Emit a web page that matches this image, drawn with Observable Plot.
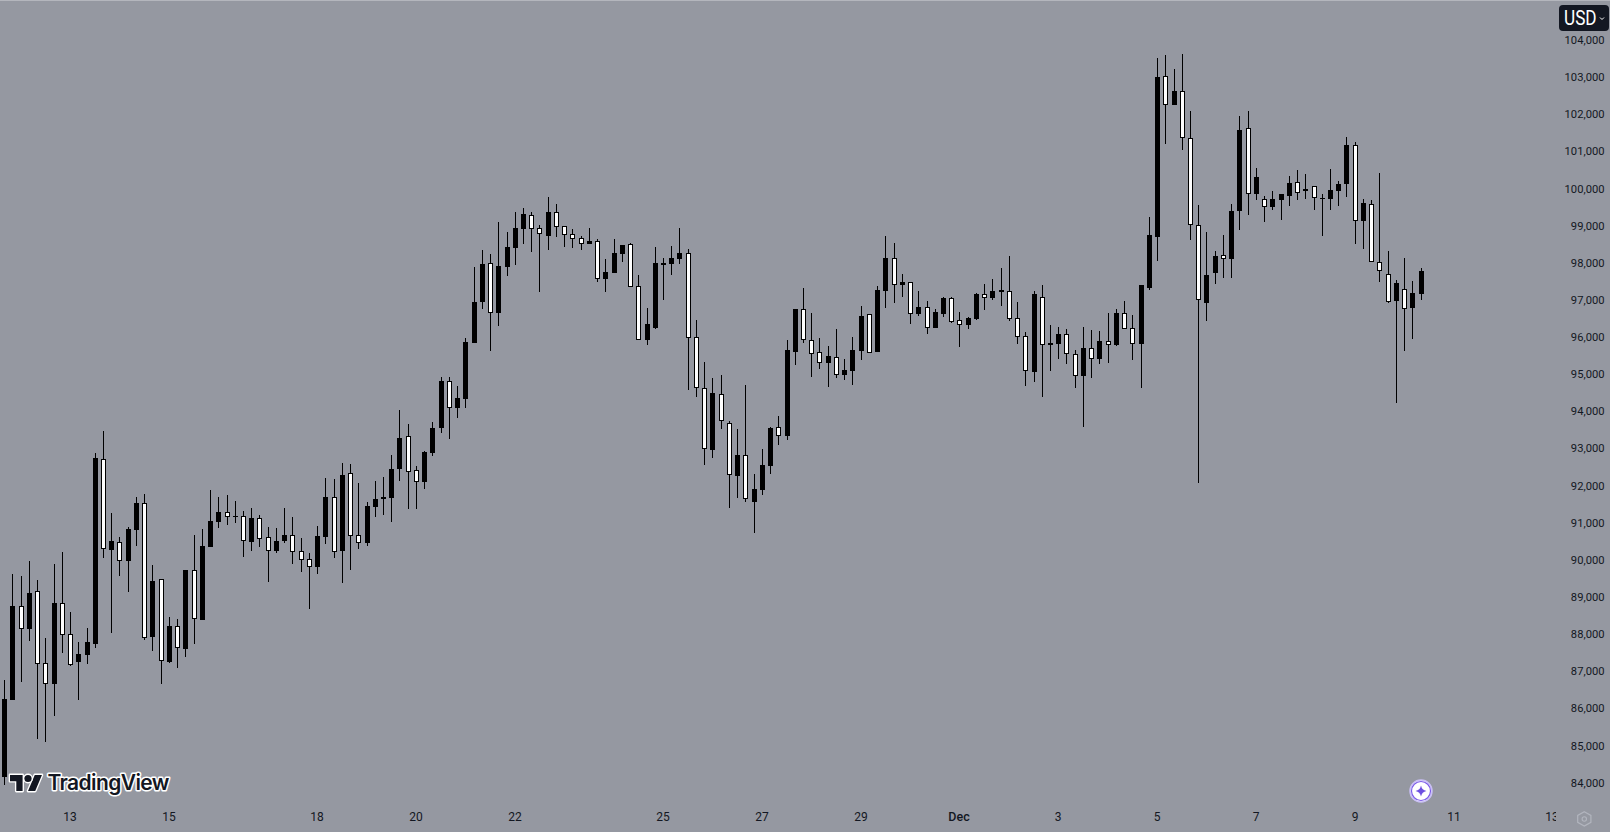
<!DOCTYPE html>
<html>
<head>
<meta charset="utf-8">
<script src="https://cdn.jsdelivr.net/npm/d3@7"></script>
<script src="https://cdn.jsdelivr.net/npm/@observablehq/plot@0.6"></script>
<style>
html,body{margin:0;padding:0;background:#9598a1;overflow:hidden}
#wrap{position:relative;width:1610px;height:832px;background:#9598a1;overflow:hidden}
#wrap svg.plot{position:absolute;left:0;top:0;background:transparent}
.ov{position:absolute}
</style>
</head>
<body>
<div id="wrap"></div>
<script>
const opens = [84161,86235,88748,88138,89152,87213,86657,88829,87994,87249,87438,87734,92707,90265,90472,89969,90804,91522,87922,89475,87249,88210,87599,89718,88380,90346,91019,91280,91154,91172,90481,
91118,90607,90239,90508,90660,90230,90014,89808,90616,91684,90239,92330,90660,90454,91424,91639,91666,92447,93327,92411,92097,92878,93551,94808,94090,94332,95840,96944,97986,96648,97887,98399,98910,99278,98928,98722,99359,98982,98767,98659,98506,98587,97564,97725,98237,98506,97366,95921,96244,97941,97968,98102,98264,96002,94628,92959,94467,93686,92258,92824,91558,91881,92528,93578,
93336,95598,96756,95921,95598,95302,95463,94979,95086,95625,96621,95598,97241,98130,97402,97483,96621,96810,96244,96621,97052,96460,96325,96487,97160,97052,97214,97241,96514,96029,
95059,97079,95786,95813,96082,95544,94951,95705,95409,95894,95786,96648,96244,95813,97321,98695,103030,102249,102627,101361,99018,96917,97725,98210,
98103,99395,101622,99853,99719,99503,99692,99799,100167,99934,100060,99719,99719,99934,100122,101173,99126,99584,98022,97699,96972,97295,96783,97160];
const closes = [86253,88757,88147,89107,87204,86666,88838,87985,87168,87465,87788,92743,90301,90508,89978,90831,91531,87895,89430,87285,88219,87635,89727,88416,90373,91046,91289,91163,91172,90517,91127,
90571,90248,90508,90669,90221,90005,89817,90643,91693,90221,92285,90652,90463,91450,91639,91693,92447,93282,92375,92106,92905,93551,94817,94090,94359,95867,96944,97968,96657,97914,98426,98937,99314,98919,98785,99368,98973,98758,98650,98515,98587,97564,97752,98264,98479,97348,95921,96352,97995,97995,98129,98264,95975,94628,92986,94494,93740,92285,92824,91639,91908,92555,93551,93336,
95652,96756,95921,95544,95302,95490,94979,95113,95652,96568,95571,97268,98130,97402,97483,96621,96810,96244,96675,97052,96406,96325,96514,97160,97052,97241,97268,96487,96002,95086,
97160,95786,95840,96082,95544,94951,95705,95409,95894,95786,96648,96217,95813,97402,98748,103004,102249,102627,101361,99018,96998,97671,98183,98102,
99395,101577,99853,100311,99503,99719,99853,100149,99880,99988,99745,99745,99961,100122,101173,99126,99611,98022,97779,96945,97456,96756,97187,97779];
const highs = [86764,89619,89565,89960,89457,87895,89888,90203,88596,87779,88156,92869,93470,91262,90615,90885,91693,91773,89861,89475,88461,88407,89727,90669,90831,91881,91693,91747,91585,91316,91396,
91208,90885,90858,91397,91154,90589,90185,90912,92205,92178,92609,92582,92070,91558,92124,92232,92824,94036,93659,92528,92932,93713,94925,94925,94682,95966,97887,98345,98237,99099,98830,99368,99476,99368,99018,99772,99584,98991,98910,98713,98937,98632,98102,98632,98479,98533,97672,96783,98426,98129,98453,98937,98372,96460,95329,94898,94978,93740,93524,94709,92312,92986,93578,93874,
95921,96756,97322,96648,95975,95760,96218,95410,96002,96837,96621,97376,98722,98534,97699,97483,97241,96972,96756,97079,97079,96675,96541,97187,97429,97564,97860,98183,96945,96137,
97240,97402,96325,96271,96217,95651,96271,96190,96163,96648,96756,96971,96594,97402,99233,103515,103596,103219,103623,102088,99556,98829,98318,98748,
99584,101954,102088,100553,99799,99934,99853,100338,100500,100392,100069,99853,100526,100203,101388,101254,99719,99692,100419,98318,97537,98130,97510,97860];
const lows = [83937,86235,86710,87815,85175,85095,85795,87491,87141,86226,87195,87626,90050,88030,89565,89134,90373,87842,87545,86657,87222,87087,87384,87734,88380,90346,90858,90939,90992,90077,90238,
90346,89404,90185,90454,89888,89673,88677,89619,90427,90050,89377,89727,90292,90373,91154,91208,91020,92124,91370,91370,91908,92797,93416,93255,93820,94090,95840,96756,95625,96298,97645,97941,98506,98291,97214,98345,98695,98426,98399,98345,98506,97483,97214,97725,98022,97348,95921,95786,96217,96998,97672,97968,94574,94386,92555,92743,93524,91397,91666,91558,90723,91747,92312,93093,
93228,95248,95840,94925,95140,94656,94898,94844,94709,95383,95571,95598,96783,96918,97079,96352,96568,96083,96244,96541,96379,95733,96218,96460,96729,96999,96837,96433,95814,94682,
94790,94386,95086,95409,95274,94628,93578,94897,95274,95301,95759,96217,95382,94628,97267,98048,101199,102249,101038,98614,92069,96432,97429,97590,
97591,98884,99288,99692,99099,99422,99153,99530,99692,99719,99422,98722,99422,99530,99772,98507,98372,98022,97483,96918,94225,95625,95948,96998];

const firstCandle = Date.UTC(2024, 10, 11, 16);
const candleHours = 4;
const candleMs = candleHours * 3600e3;
const candles = opens.map((o, i) => ({
  date: new Date(firstCandle + i * candleMs),
  open: o, close: closes[i], high: highs[i], low: lows[i],
  top: Math.max(o, closes[i]), bottom: Math.min(o, closes[i])
}));
const falling = candles.filter(d => d.close < d.open);

const priceTicks = d3.range(84000, 104001, 1000);
const dayTicks = [
  [2024,10,13,"13"],[2024,10,15,"15"],[2024,10,18,"18"],[2024,10,20,"20"],[2024,10,22,"22"],
  [2024,10,25,"25"],[2024,10,27,"27"],[2024,10,29,"29"],[2024,11,3,"3"],[2024,11,5,"5"],
  [2024,11,7,"7"],[2024,11,9,"9"],[2024,11,11,"11"],[2024,11,13,"13"]
].map(([y,m,d,label]) => ({date:new Date(Date.UTC(y,m,d)), label}));
const monthTicks = [{date:new Date(Date.UTC(2024,11,1)), label:"Dec"}];

const pxPerCandle = 8.235, leftPx = 4.18;
const chart = Plot.plot({
  width: 1610, height: 832,
  marginTop: 0, marginLeft: 0, marginRight: 0, marginBottom: 22,
  style: {background: "transparent", fontFamily: "Roboto, 'Liberation Sans', sans-serif", fontSize: "11.2px", overflow: "visible"},
  x: {type: "utc", domain: [new Date(firstCandle - leftPx / pxPerCandle * candleMs), new Date(firstCandle + (1610 - leftPx) / pxPerCandle * candleMs)], range: [0, 1610], round: true},
  y: {type: "linear", domain: [84000, 104000], range: [782.7, 40], round: true},
  marks: [
    Plot.ruleX(candles, {x: "date", y1: "low", y2: "high", stroke: "#000", strokeWidth: 1}),
    Plot.ruleX(candles, {x: "date", y1: "top", y2: "bottom", stroke: "#000", strokeWidth: 5}),
    Plot.ruleX(falling, {x: "date", y1: "top", y2: "bottom", stroke: "#fff", strokeWidth: 3, insetTop: 1, insetBottom: 1}),
    Plot.axisY(priceTicks, {anchor: "right", tickSize: 0, tickPadding: 0, dx: -6, textAnchor: "end", fill: "#131722", label: null, tickFormat: d3.format(",")}),
    Plot.axisX(dayTicks.map(d => d.date), {anchor: "bottom", tickSize: 0, tickPadding: 2, dx: -0.5, fill: "#131722", fontSize: 12, label: null,
      tickFormat: d => dayTicks.find(t => +t.date === +d).label}),
    Plot.axisX(monthTicks.map(d => d.date), {anchor: "bottom", tickSize: 0, tickPadding: 2, dx: -0.5, fill: "#131722", fontSize: 12.5, fontWeight: 500, label: null,
      tickFormat: d => monthTicks.find(t => +t.date === +d).label})
  ]
});
chart.classList.add("plot");
const wrap = document.getElementById("wrap");
wrap.appendChild(chart);

wrap.insertAdjacentHTML("beforeend", `
<div class="ov" style="left:0;top:0;width:1610px;height:1px;background:#b4b6bd"></div>
<div class="ov" style="left:1556px;top:800px;width:54px;height:32px;background:#9598a1"></div>
<svg class="ov" style="left:0;top:0" width="1610" height="832" viewBox="0 0 1610 832">
  <g transform="translate(10,774) scale(0.9)" fill="#131722" stroke="#fff" stroke-width="3" paint-order="stroke" stroke-linejoin="round">
    <path d="M14 19H7V8H0V1h14v18zM28 19h-8l7.5-18h8L28 19z"/>
    <circle cx="20" cy="5" r="4"/>
  </g>
  <text x="47.5" y="790" font-family="Inter, sans-serif" font-weight="600" font-size="21" letter-spacing="-0.6" fill="#131722" stroke="#fff" stroke-width="3" paint-order="stroke" stroke-linejoin="round">TradingView</text>
  <rect x="1559" y="5" width="50" height="26" rx="4" fill="#131722"/>
  <text transform="translate(1564,25) scale(0.86,1)" font-family="Roboto, sans-serif" font-size="20" fill="#fff">USD</text>
  <path d="M1600 17.5l2 2 2-2" fill="none" stroke="#fff" stroke-width="1"/>
  <circle cx="1421" cy="791" r="11" fill="#fff" stroke="#c9bff5" stroke-width="1.5"/>
  <circle cx="1421" cy="791" r="9.5" fill="#fff" stroke="#7c5ce8" stroke-width="1.2"/>
  <path d="M1421 785.5q0.9 4.6 5.5 5.5q-4.6 0.9-5.5 5.5q-0.9-4.6-5.5-5.5q4.6-0.9 5.5-5.5z" fill="#6d4fe0"/>
  <path d="M1584.3 811.8l6.6 3.6v7l-6.6 3.6-6.6-3.6v-7z" fill="none" stroke="#b2b5be" stroke-width="1.2"/>
  <circle cx="1584.3" cy="819" r="2.2" fill="none" stroke="#b2b5be" stroke-width="1.1"/>
</svg>`);
</script>
</body>
</html>
